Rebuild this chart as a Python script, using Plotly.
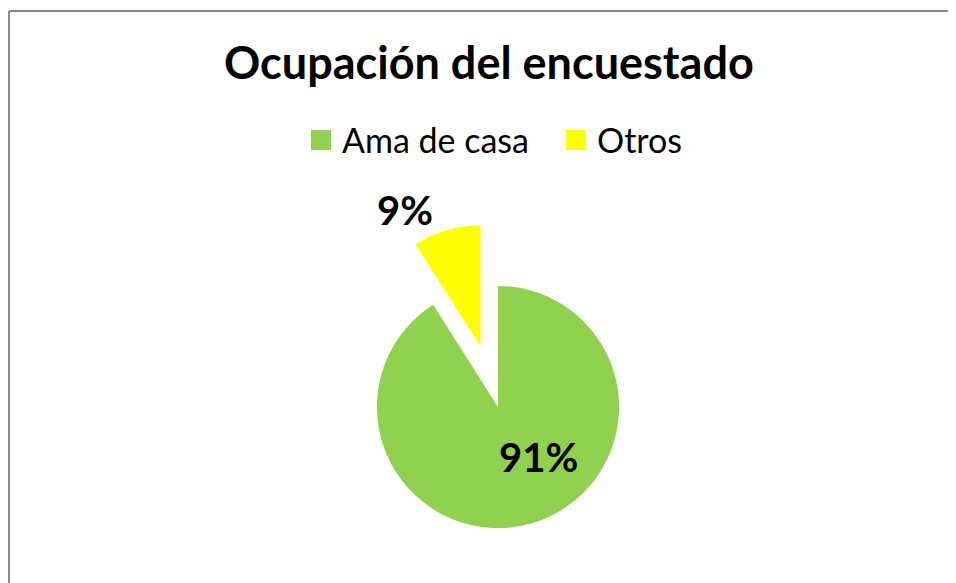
import plotly.graph_objects as go

# ---- data ----
categories = ["Ama de casa", "Otros"]
values = [91, 9]
colors = ["#92D050", "#FFFF00"]
title_text = "Ocupación del encuestado"

W, H = 956, 583
FONT = "Lato, Calibri, sans-serif"

total = sum(values)
pct_labels = [f"{round(v / total * 100)}%" for v in values]

fig = go.Figure()
fig.add_trace(go.Pie(
    labels=categories,
    values=values,
    marker=dict(colors=colors, line=dict(width=0)),
    sort=False,
    direction="clockwise",
    rotation=0,
    pull=[0, 0.52],
    textinfo="none",
    hoverinfo="label+percent",
    showlegend=False,
    domain=dict(x=[306 / W, 674 / W], y=[0, 368 / H]),
))

# manual legend (large square swatches)
leg_sq_x = [303, 558]
leg_txt_x = [332, 587]
leg_y = 132
shapes = []
annotations = []
for i, cat in enumerate(categories):
    shapes.append(dict(type="rect", xref="paper", yref="paper",
                       x0=leg_sq_x[i] / W, x1=(leg_sq_x[i] + 20) / W,
                       y0=1 - (leg_y + 10) / H, y1=1 - (leg_y - 10) / H,
                       fillcolor=colors[i], line=dict(width=0)))
    annotations.append(dict(text=cat, xref="paper", yref="paper",
                            x=leg_txt_x[i] / W, y=1 - leg_y / H,
                            xanchor="left", yanchor="middle", showarrow=False,
                            font=dict(family=FONT, size=34, color="#000000")))

# chart border (only top and left edges visible)
shapes.append(dict(type="line", xref="paper", yref="paper",
                   x0=1 / W, x1=1.0, y0=1 - 3 / H, y1=1 - 3 / H,
                   line=dict(color="#868686", width=2)))
shapes.append(dict(type="line", xref="paper", yref="paper",
                   x0=1 / W, x1=1 / W, y0=0, y1=1 - 3 / H,
                   line=dict(color="#868686", width=2)))

# percentage labels
pct_pos = [(530, 449), (397, 202)]
for i, txt in enumerate(pct_labels):
    annotations.append(dict(text=f"<b>{txt}</b>", xref="paper", yref="paper",
                            x=pct_pos[i][0] / W, y=1 - pct_pos[i][1] / H,
                            xanchor="center", yanchor="middle", showarrow=False,
                            font=dict(family=FONT, size=40, color="#000000")))

# title
annotations.append(dict(text=f"<b>{title_text}</b>", xref="paper", yref="paper",
                        x=481 / W, y=1 - 54 / H, xanchor="center", yanchor="middle",
                        showarrow=False,
                        font=dict(family=FONT, size=45, color="#000000")))

fig.update_layout(
    width=W, height=H,
    margin=dict(l=0, r=0, t=0, b=0),
    paper_bgcolor="white",
    plot_bgcolor="white",
    shapes=shapes,
    annotations=annotations,
)

fig.write_html(
    "out.html",
    post_script="document.documentElement.style.overflow='hidden';"
                "document.body.style.overflow='hidden';",
)
